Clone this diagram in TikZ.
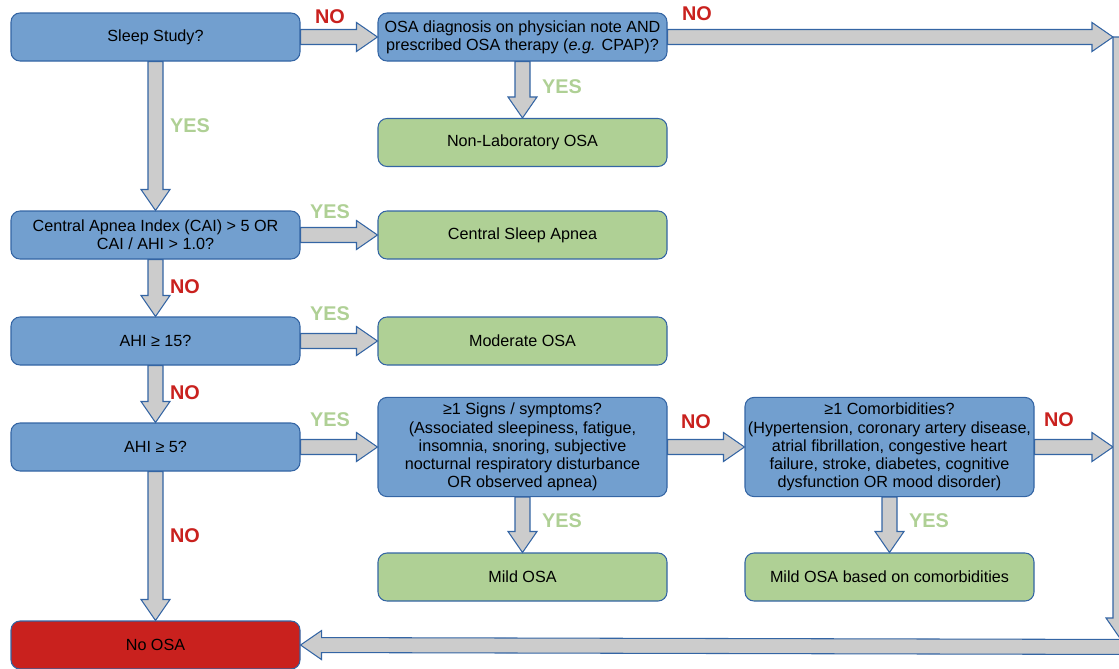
\documentclass[tikz,border=0pt]{standalone}
\usepackage{fontspec}
\setmainfont{Liberation Sans}
\usetikzlibrary{calc}

\definecolor{boxblue}{HTML}{729FCF}
\definecolor{boxgreen}{HTML}{AFD095}
\definecolor{boxred}{HTML}{C9211E}
\definecolor{edgeblue}{HTML}{3465A4}
\definecolor{arrgray}{HTML}{CCCCCC}

% block arrow sizes: half shaft, half head, head length
\newcommand\arrsw{0.15cm}
\newcommand\arrhw{0.29cm}
\newcommand\arrhl{0.42cm}
\newcommand\barrow[2]{%
  \coordinate (bs) at (#1); \coordinate (bt) at (#2);
  \coordinate (bh) at ($(bt)!\arrhl!(bs)$);
  \filldraw[blk] ($(bs)!\arrsw!90:(bt)$) -- ($(bh)!\arrsw!-90:(bs)$) -- ($(bh)!\arrhw!-90:(bs)$) -- (bt)
    -- ($(bh)!\arrhw!90:(bs)$) -- ($(bh)!\arrsw!90:(bs)$) -- ($(bs)!\arrsw!-90:(bt)$) -- cycle;}

\begin{document}
\begin{tikzpicture}[
  box/.style={draw=edgeblue, line width=0.6pt, rounded corners=0.18cm, minimum width=5.78cm, minimum height=0.96cm,
    align=center, inner xsep=1pt, font=\fontsize{9.2}{10.3}\selectfont},
  ask/.style={box, fill=boxblue},
  res/.style={box, fill=boxgreen},
  neg/.style={box, fill=boxred},
  tall/.style={minimum height=1.92cm},
  blk/.style={draw=edgeblue, fill=arrgray, line width=0.6pt},
  labYES/.style={text=boxgreen, font=\fontsize{11.3}{13}\selectfont\bfseries},
  labNO/.style={text=boxred, font=\fontsize{11.3}{13}\selectfont\bfseries}]
  \useasboundingbox (0,0) rectangle (22.38,-13.36);
  % questions (left column)
  \node[ask] (sleep) at (3.11,-0.74) {Sleep Study?};
  \node[ask] (cai) at (3.11,-4.70) {Central Apnea Index (CAI) > 5 OR\\CAI / AHI > 1.0?};
  \node[ask] (ahi15) at (3.11,-6.82) {AHI ≥ 15?};
  \node[ask] (ahi5) at (3.11,-8.94) {AHI ≥ 5?};
  \node[neg] (noosa) at (3.11,-12.90) {No OSA};
  % middle column
  \node[ask] (diag) at (10.45,-0.74) {OSA diagnosis on physician note AND\\prescribed OSA therapy (\emph{e.g.} CPAP)?};
  \node[res] (nonlab) at (10.45,-2.85) {Non-Laboratory OSA};
  \node[res] (csa) at (10.45,-4.70) {Central Sleep Apnea};
  \node[res] (mod) at (10.45,-6.82) {Moderate OSA};
  \node[ask, tall] (sympt) at (10.45,-8.94) {≥1 Signs / symptoms?\\(Associated sleepiness, fatigue,\\insomnia, snoring, subjective\\nocturnal respiratory disturbance\\OR observed apnea)};
  \node[res] (mild) at (10.45,-11.54) {Mild OSA};
  % right column
  \node[ask, tall] (comorb) at (17.79,-8.94) {≥1 Comorbidities?\\(Hypertension, coronary artery disease,\\atrial fibrillation, congestive heart\\failure, stroke, diabetes, cognitive\\dysfunction OR mood disorder)};
  \node[res] (mildc) at (17.79,-11.54) {Mild OSA based on comorbidities};
  % return band on the right edge
  \coordinate (rin1) at (22.26,-0.74);
  \coordinate (rin2) at (22.26,-8.94);
  \coordinate (rtop) at (22.41,-0.74);
  \coordinate (rbot) at (22.41,-12.78);
  \coordinate (rend) at (22.90,-12.94);
  % connectors
  \foreach \a/\b in {sleep.east/diag.west, diag.east/rin1, diag.south/nonlab.north,
      sleep.south/cai.north, cai.east/csa.west, cai.south/ahi15.north,
      ahi15.east/mod.west, ahi15.south/ahi5.north, ahi5.east/sympt.west,
      sympt.east/comorb.west, comorb.east/rin2, sympt.south/mild.north,
      comorb.south/mildc.north, ahi5.south/noosa.north, rtop/rbot, rend/noosa.east}
    \barrow{\a}{\b};
  % answers
  \foreach \t/\x/\y [count=\k] in {NO/6.60/-0.34, NO/13.94/-0.28, YES/11.24/-1.74,
      YES/3.80/-2.52, YES/6.60/-4.24, NO/3.70/-5.74, YES/6.60/-6.28, NO/3.70/-7.86,
      YES/6.60/-8.40, NO/13.92/-8.44, NO/21.18/-8.40, YES/11.24/-10.42,
      YES/18.58/-10.42, NO/3.70/-10.72}
    \node[lab\t] (ans\k) at (\x,\y) {\t};
\end{tikzpicture}
\end{document}
